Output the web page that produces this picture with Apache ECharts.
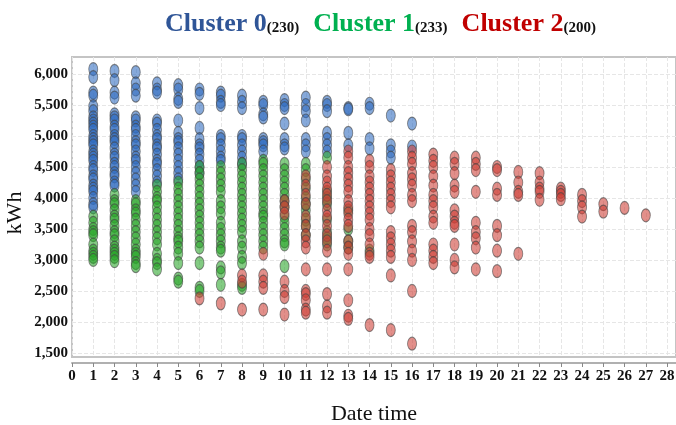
<!DOCTYPE html>
<html><head><meta charset="utf-8">
<script src="https://cdn.jsdelivr.net/npm/echarts@6/dist/echarts.min.js"></script>
<style>html,body{margin:0;padding:0;background:#fff}#c{width:676px;height:425px}</style>
</head><body><div id="c"></div>
<script>
const clusterNames = ['Cluster 0', 'Cluster 1', 'Cluster 2'];
const clusterCounts = [230, 233, 200];
const xTickLabels = [0,1,2,3,4,5,6,7,8,9,10,11,12,13,14,15,16,17,18,19,20,21,22,23,24,25,26,27,28];
const yTickLabels = [1500,2000,2500,3000,3500,4000,4500,5000,5500,6000];

const c0Days = [1,2,3,4,5,6,7,8,9,10,11,12,13,14,15,16];
const c0Values = [
[6080,5950,5700,5650,5480,5400,5300,5250,5200,5150,5100,5000,4950,4900,4850,4750,4700,4650,4600,4500,4450,4350,4300,4200,4150,4100,4000,3900,3850],
[6050,5900,5700,5620,5350,5300,5250,5150,5100,5000,4950,4900,4800,4700,4650,4550,4500,4400,4350,4250,4200],
[6030,5850,5750,5650,5300,5250,5150,5100,5000,4900,4850,4750,4650,4600,4500,4400,4300,4200,4100],
[5850,5750,5700,5250,5200,5100,5000,4950,4850,4800,4700,4600,4550,4450,4350,4250],
[5820,5750,5600,5550,5250,5050,4950,4900,4800,4700,4600,4500,4400,4300],
[5750,5680,5450,5130,4950,4850,4800,4700,4600,4500,4400],
[5700,5650,5550,5500,5000,4950,4850,4750,4650,4600],
[5650,5550,5450,5000,4950,4850,4750,4650,4550],
[5550,5500,5350,5300,4950,4900,4850,4750],
[5580,5500,5450,5200,4950,4850,4800],
[5620,5500,5400,5250,4950,4850,4750],
[5550,5500,5400,5050,4950,4850,4750],
[5450,5430,5050,4850],
[5520,5450,4950,4800],
[5330,4850,4750,4650],
[5200,4830]
];

const c1Days = [1,2,3,4,5,6,7,8,9,10,11,12,13,14];
const c1Values = [
[3700,3600,3500,3450,3400,3250,3150,3100,3050,3000],
[4050,3950,3900,3800,3700,3650,3550,3450,3400,3300,3200,3150,3100,3050,2980],
[3950,3900,3800,3750,3650,3550,3450,3350,3250,3150,3100,3050,2950,2900],
[4200,4100,4000,3950,3850,3750,3650,3550,3450,3350,3250,3100,3000,2950,2850],
[4250,4150,4050,3950,3850,3750,3650,3550,3450,3350,3300,3200,3100,2950,2700,2650],
[4500,4400,4300,4200,4100,4000,3900,3800,3700,3600,3500,3400,3300,3200,2950,2550,2500],
[4500,4400,4300,4200,4100,3950,3850,3750,3600,3500,3400,3300,3200,3150,2880,2800,2600],
[4550,4450,4350,4250,4150,4050,3950,3850,3750,3650,3550,3450,3300,3200,3050,2950,2600,2550],
[4600,4550,4450,4350,4250,4150,4050,3950,3850,3750,3700,3600,3500,3400,3300,3200],
[4550,4450,4350,4250,4150,4050,3950,3850,3700,3600,3500,3400,3300,3250,2900],
[4550,4450,4300,4150,4000,3900,3800,3650,3550,3400],
[4650,4100,4000,3900,3650,3450,3350,3250],
[3800,3500,3300,3200],
[3150]
];

const c2Days = [6,7,8,9,10,11,12,13,14,15,16,17,18,19,20,21,22,23,24,25,26,27];
const c2Values = [
[2380],
[2300],
[2750,2650,2200],
[3100,2750,2650,2550,2200],
[3950,3850,3750,2650,2500,2400,2120],
[4350,4200,4050,3900,3700,3550,3400,3300,3200,2850,2500,2450,2350,2200,2150],
[4500,4350,4250,4150,4050,3950,3800,3700,3550,3400,3300,3150,2850,2450,2250,2150],
[4750,4650,4500,4400,4300,4200,4100,3950,3850,3750,3650,3550,3300,3200,3100,2850,2350,2100,2050],
[4600,4500,4350,4250,4150,4050,3950,3850,3750,3650,3500,3400,3250,3100,3050,1950],
[4450,4350,4250,4150,4050,3950,3850,3450,3350,3250,3150,3050,2750,1870],
[4750,4650,4550,4400,4300,4200,4050,3950,3550,3450,3300,3150,3000,2500,1650],
[4700,4600,4500,4350,4200,4050,3950,3850,3700,3600,3250,3150,3050,2950],
[4650,4550,4400,4200,4100,3800,3700,3600,3550,3250,3000,2880],
[4650,4550,4450,4100,3600,3450,3350,3200,2850],
[4500,4450,4150,4050,3550,3400,3150,2820],
[4420,4250,4100,4050,3100],
[4400,4250,4150,4100,3970],
[4150,4100,4050,3980],
[4050,3950,3850,3700],
[3900,3780],
[3840],
[3720]
];

function build(days, values) {
  const out = [];
  days.forEach((d, i) => values[i].forEach(v => out.push([d, v])));
  return out;
}

const fills = ['rgba(45,105,190,0.72)', 'rgba(40,165,40,0.72)', 'rgba(205,60,52,0.72)'];
const titleColors = ['#2f5597', '#00b050', '#c00000'];
const serif = '"Liberation Serif", "Times New Roman", serif';

const chart = echarts.init(document.getElementById('c'), null, {renderer: 'canvas'});

const rich = {};
let titleText = '';
clusterNames.forEach((n, i) => {
  rich['n' + i] = {fontFamily: serif, fontWeight: 'bold', fontSize: 26, lineHeight: 26, color: titleColors[i], verticalAlign: 'bottom'};
  rich['c' + i] = {fontFamily: serif, fontWeight: 'bold', fontSize: 15, lineHeight: 15, color: '#111', verticalAlign: 'bottom', padding: [0, i < 2 ? 14 : 0, 1, 0]};
  titleText += '{n' + i + '|' + n + '}{c' + i + '|(' + clusterCounts[i] + ')}';
});

const seriesData = [build(c0Days, c0Values), build(c1Days, c1Values), build(c2Days, c2Values)];

chart.setOption({
  animation: false,
  title: {text: titleText, left: 160, top: 6, textStyle: {rich: rich}},
  grid: {left: 72, right: 0, top: 57, bottom: 68, show: true, borderColor: '#c4c4c4', borderWidth: 2, backgroundColor: '#fff', outerBoundsMode: 'none', containLabel: false},
  xAxis: {
    type: 'value', min: 0, max: 28.42, interval: 1, offset: 6,
    name: 'Date time', nameLocation: 'middle', nameGap: 40, nameMoveOverlap: false,
    nameTextStyle: {fontFamily: serif, fontSize: 22, color: '#111'},
    axisLine: {show: true, lineStyle: {color: '#b0b0b0', width: 2}},
    axisTick: {show: true, length: 4, lineStyle: {color: '#888'}},
    axisLabel: {fontFamily: serif, fontWeight: 'bold', fontSize: 15, color: '#111', margin: 6,
      formatter: v => xTickLabels.indexOf(v) >= 0 ? String(v) : ''},
    splitLine: {show: true, lineStyle: {color: '#e6e6e6', type: 'dashed'}}
  },
  yAxis: {
    type: 'value', min: 1435, max: 6274,
    name: 'kWh', nameLocation: 'middle', nameGap: 46, nameRotate: 90, nameMoveOverlap: false,
    nameTextStyle: {fontFamily: serif, fontSize: 22, color: '#111', padding: [0, 0, 0, -12]},
    axisLine: {show: false},
    axisTick: {show: false, customValues: yTickLabels},
    axisLabel: {fontFamily: serif, fontWeight: 'bold', fontSize: 15, color: '#111', margin: 4,
      customValues: yTickLabels,
      formatter: v => v.toLocaleString('en-US')},
    splitLine: {show: true, lineStyle: {color: '#e6e6e6', type: 'dashed'}}
  },
  series: seriesData.map((d, i) => ({
    type: 'scatter', name: clusterNames[i], data: d,
    symbol: 'circle', symbolSize: [9, 13],
    itemStyle: {color: fills[i], borderColor: 'rgba(70,70,70,0.8)', borderWidth: 1}
  }))
});
</script>
</body></html>
